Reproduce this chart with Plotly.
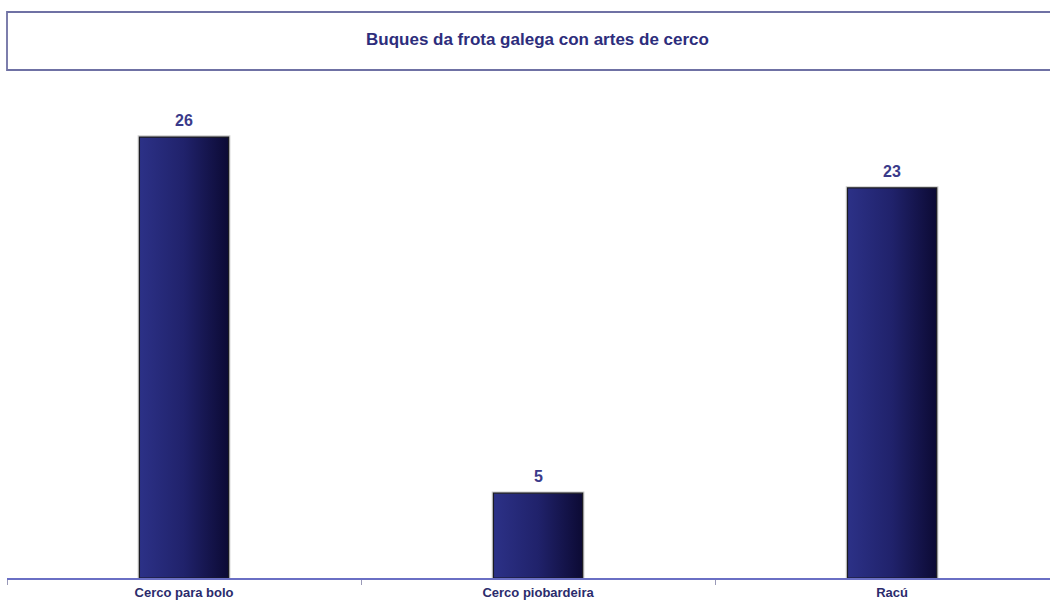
import plotly.graph_objects as go

# Vessel counts by purse-seine gear type
categories = ["Cerco para bolo", "Cerco piobardeira", "Racú"]
values = [26, 5, 23]
title_text = "Buques da frota galega con artes de cerco"

BAR_HALF = 0.126
PLOT_TOP, PLOT_BOTTOM = 90, 578
PLOT_H = PLOT_BOTTOM - PLOT_TOP
PX_PER_UNIT = 16.96
FONT = "Liberation Sans, Arial"

fig = go.Figure()

for i, v in enumerate(values):
    xs = [i - BAR_HALF, i + BAR_HALF, i + BAR_HALF, i - BAR_HALF, i - BAR_HALF]
    ys = [0, 0, v, v, 0]
    # soft light-grey halo around each bar
    fig.add_trace(go.Scatter(
        x=xs, y=ys, mode="lines",
        line=dict(color="rgba(170,170,170,0.6)", width=3.5),
        hoverinfo="skip", showlegend=False,
    ))
    fig.add_trace(go.Scatter(
        x=xs, y=ys, mode="lines", fill="toself",
        fillgradient=dict(type="horizontal",
                          colorscale=[[0, "#2c3187"], [0.5, "#20226b"], [1, "#0c0a34"]]),
        line=dict(color="#1b1b22", width=1.2),
        hoverinfo="skip", showlegend=False,
    ))

# value labels above bars
value_labels = [dict(
    x=i, y=v, xref="x", yref="y", text=f"<b>{v}</b>",
    showarrow=False, xanchor="center", yanchor="bottom", yshift=6,
    font=dict(family=FONT, size=16, color="#3a3a8a"),
) for i, v in enumerate(values)]

fig.update_layout(
    width=1050, height=602,
    margin=dict(l=7, r=0, t=PLOT_TOP, b=602 - PLOT_BOTTOM),
    paper_bgcolor="white", plot_bgcolor="white",
    xaxis=dict(
        range=[-0.5, 2.446],
        tickvals=list(range(len(categories))),
        ticktext=[f"<b>{c}</b>" for c in categories],
        ticks="", showgrid=False, zeroline=False,
        showline=True, linecolor="#6a6fc4", linewidth=1.6,
        ticklabelstandoff=2, automargin=False,
        tickfont=dict(family=FONT, size=13, color="#2b2b6c"),
        minor=dict(tickvals=[-0.5, 0.5, 1.5], ticks="outside", ticklen=5,
                   tickcolor="#9a9ab8", tickwidth=1),
        fixedrange=True,
    ),
    yaxis=dict(
        range=[0, PLOT_H / PX_PER_UNIT],
        visible=False, showgrid=False, zeroline=False, automargin=False,
    ),
    shapes=[dict(
        type="rect", xref="paper", yref="paper",
        x0=0, x1=1.02,
        y0=(PLOT_BOTTOM - 70) / PLOT_H, y1=(PLOT_BOTTOM - 12) / PLOT_H,
        line=dict(color="#6f71a4", width=1.8), fillcolor="white",
    )],
    annotations=[dict(
        text=f"<b>{title_text}</b>", xref="paper", yref="paper",
        x=(537 - 7) / 1043, y=(PLOT_BOTTOM - 40) / PLOT_H,
        showarrow=False, xanchor="center", yanchor="middle",
        font=dict(family=FONT, size=17, color="#2d2d7c"),
    )] + value_labels,
)

fig.write_html("out.html")
